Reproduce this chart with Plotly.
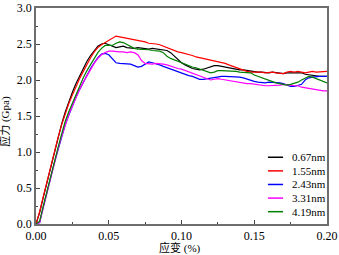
import plotly.graph_objects as go

strain = [0.0, 0.0025, 0.005, 0.0075, 0.01, 0.0125, 0.015, 0.0175, 0.02, 0.0225,
          0.025, 0.0275, 0.03, 0.0325, 0.035, 0.0375, 0.04, 0.0425, 0.045, 0.0475,
          0.05, 0.0525, 0.055, 0.0575, 0.06, 0.0625, 0.065, 0.0675, 0.07, 0.0725,
          0.075, 0.0775, 0.08, 0.0825, 0.085, 0.0875, 0.09, 0.0925, 0.095, 0.0975,
          0.1, 0.1025, 0.105, 0.1075, 0.11, 0.1125, 0.115, 0.1175, 0.12, 0.1225,
          0.125, 0.1275, 0.13, 0.1325, 0.135, 0.1375, 0.14, 0.1425, 0.145, 0.1475,
          0.15, 0.1525, 0.155, 0.1575, 0.16, 0.1625, 0.165, 0.1675, 0.17, 0.1725,
          0.175, 0.1775, 0.18, 0.1825, 0.185, 0.1875, 0.19, 0.1925, 0.195, 0.1975, 0.2]

s_067 = [0, 0.16, 0.37, 0.58, 0.79, 0.99, 1.19, 1.38, 1.55, 1.70,
         1.83, 1.95, 2.06, 2.16, 2.26, 2.34, 2.41, 2.47, 2.50, 2.51,
         2.49, 2.47, 2.45, 2.46, 2.47, 2.45, 2.44, 2.44, 2.45, 2.44,
         2.43, 2.43, 2.44, 2.43, 2.42, 2.42, 2.41, 2.38, 2.33, 2.28,
         2.24, 2.21, 2.18, 2.16, 2.15, 2.14, 2.15, 2.17, 2.19, 2.20,
         2.20, 2.19, 2.18, 2.16, 2.15, 2.15, 2.14, 2.14, 2.13, 2.12,
         2.12, 2.11, 2.11, 2.10, 2.10, 2.11, 2.10, 2.10, 2.09, 2.10,
         2.10, 2.11, 2.11, 2.10, 2.08, 2.07, 2.06, 2.05, 2.05, 2.05, 2.05]

s_155 = [0, 0.17, 0.38, 0.59, 0.80, 1.00, 1.19, 1.37, 1.53, 1.67,
         1.79, 1.91, 2.02, 2.12, 2.22, 2.31, 2.39, 2.45, 2.49, 2.52,
         2.56, 2.59, 2.61, 2.60, 2.59, 2.58, 2.57, 2.57, 2.56, 2.55,
         2.53, 2.51, 2.51, 2.50, 2.49, 2.47, 2.45, 2.42, 2.40, 2.39,
         2.38, 2.37, 2.36, 2.34, 2.32, 2.31, 2.30, 2.29, 2.28, 2.27,
         2.26, 2.25, 2.23, 2.21, 2.19, 2.17, 2.16, 2.14, 2.12, 2.11,
         2.11, 2.12, 2.11, 2.10, 2.11, 2.11, 2.10, 2.10, 2.09, 2.11,
         2.12, 2.11, 2.12, 2.11, 2.10, 2.11, 2.12, 2.11, 2.11, 2.12, 2.12]

s_243 = [0, 0.02, 0.23, 0.44, 0.64, 0.84, 1.02, 1.20, 1.37, 1.51,
         1.64, 1.76, 1.87, 1.97, 2.07, 2.16, 2.24, 2.31, 2.36, 2.37,
         2.35, 2.30, 2.24, 2.23, 2.23, 2.22, 2.22, 2.20, 2.18, 2.19,
         2.22, 2.25, 2.24, 2.23, 2.21, 2.19, 2.17, 2.15, 2.13, 2.11,
         2.09, 2.08, 2.06, 2.05, 2.03, 2.01, 2.01, 2.02, 2.02, 2.03,
         2.05, 2.05, 2.05, 2.05, 2.04, 2.04, 2.04, 2.03, 2.01, 1.99,
         1.98, 1.97, 1.96, 1.96, 1.97, 1.97, 1.97, 1.96, 1.95, 1.93,
         1.91, 1.91, 1.92, 1.94, 2.00, 2.03, 2.04, 2.05, 2.05, 2.05, 2.05]

s_331 = [0, 0.02, 0.23, 0.44, 0.64, 0.84, 1.03, 1.21, 1.38, 1.52,
         1.64, 1.76, 1.87, 1.97, 2.06, 2.15, 2.23, 2.30, 2.35, 2.38,
         2.40, 2.40, 2.39, 2.39, 2.39, 2.38, 2.39, 2.38, 2.35, 2.27,
         2.23, 2.22, 2.22, 2.23, 2.23, 2.22, 2.21, 2.19, 2.17, 2.16,
         2.15, 2.13, 2.11, 2.09, 2.07, 2.05, 2.03, 2.01, 2.00, 2.01,
         2.02, 2.01, 2.00, 1.99, 1.98, 1.98, 1.97, 1.96, 1.95, 1.95,
         1.94, 1.93, 1.92, 1.92, 1.92, 1.92, 1.92, 1.93, 1.94, 1.94,
         1.93, 1.92, 1.92, 1.90, 1.89, 1.88, 1.87, 1.86, 1.86, 1.85, 1.85]

s_419 = [0, 0.04, 0.25, 0.46, 0.66, 0.86, 1.05, 1.24, 1.42, 1.56,
         1.68, 1.80, 1.92, 2.03, 2.13, 2.22, 2.30, 2.38, 2.44, 2.48,
         2.48, 2.48, 2.51, 2.53, 2.52, 2.49, 2.46, 2.44, 2.43, 2.43,
         2.42, 2.42, 2.41, 2.41, 2.40, 2.38, 2.33, 2.30, 2.28, 2.26,
         2.23, 2.22, 2.20, 2.18, 2.17, 2.15, 2.13, 2.11, 2.10, 2.11,
         2.13, 2.13, 2.13, 2.12, 2.12, 2.12, 2.11, 2.11, 2.10, 2.10,
         2.07, 2.05, 2.03, 2.01, 1.99, 1.98, 1.96, 1.95, 1.94, 1.93,
         1.94, 1.95, 1.97, 2.00, 2.03, 2.05, 2.04, 2.02, 2.00, 1.98, 1.96]

names = ["0.67nm", "1.55nm", "2.43nm", "3.31nm", "4.19nm"]
series = [s_067, s_155, s_243, s_331, s_419]
colors = ["#000000", "#ff0000", "#0000ff", "#ff00ff", "#008000"]

x_ticks = [0.0, 0.05, 0.10, 0.15, 0.20]
x_ticklabels = ["0.00", "0.05", "0.10", "0.15", "0.20"]
y_ticks = [0.0, 0.5, 1.0, 1.5, 2.0, 2.5, 3.0]
y_ticklabels = ["0.0", "0.5", "1.0", "1.5", "2.0", "2.5", "3.0"]
x_title = "应变 (%)"
y_title = "应力 (Gpa)"

serif = "Liberation Serif, Noto Sans CJK SC, serif"

fig = go.Figure()
for name, ys, c in zip(names, series, colors):
    fig.add_trace(go.Scatter(x=strain, y=ys, mode="lines", name=name,
                             line=dict(color=c, width=1.2), showlegend=False,
                             hoverinfo="skip"))

# compact legend (bottom-right, inside plot)
for i, (name, c) in enumerate(zip(names, colors)):
    yy = 0.309 - 0.063 * i
    fig.add_shape(type="line", xref="paper", yref="paper",
                  x0=0.797, x1=0.849, y0=yy, y1=yy,
                  line=dict(color=c, width=1.5))
    fig.add_annotation(xref="paper", yref="paper", x=0.873, y=yy,
                       text=name, showarrow=False, xanchor="left", yanchor="middle",
                       font=dict(family=serif, size=11, color="#000000"))

# axis titles
fig.add_annotation(xref="paper", yref="paper", x=0.495, y=-0.112, text=x_title,
                   showarrow=False, xanchor="center", yanchor="middle",
                   font=dict(family=serif, size=11, color="#000000"))
fig.add_annotation(xref="paper", yref="paper", x=-0.105, y=0.475, text=y_title,
                   showarrow=False, xanchor="center", yanchor="middle", textangle=-90,
                   font=dict(family=serif, size=11, color="#000000"))

axis_common = dict(showline=True, linecolor="#6e6e6e", linewidth=1.5, mirror=True,
                   ticks="inside", ticklen=4, tickwidth=1, tickcolor="#444444",
                   showgrid=False, zeroline=False, automargin=False,
                   tickfont=dict(family=serif, size=12, color="#000000"))

fig.update_xaxes(range=[0, 0.2], tickvals=x_ticks, ticktext=x_ticklabels,
                 minor=dict(ticks="inside", ticklen=2, dtick=0.025, tickcolor="#444444"),
                 **axis_common)
fig.update_yaxes(range=[0, 3.0], tickvals=y_ticks, ticktext=y_ticklabels,
                 minor=dict(ticks="inside", ticklen=2, dtick=0.25, tickcolor="#444444"),
                 **axis_common)

fig.update_layout(width=339, height=255, margin=dict(l=36, r=12, t=8, b=31),
                  plot_bgcolor="white", paper_bgcolor="white")

fig.write_html("out.html", config={"displayModeBar": False},
               post_script="document.body.style.margin='0px';document.body.style.overflow='hidden';")
